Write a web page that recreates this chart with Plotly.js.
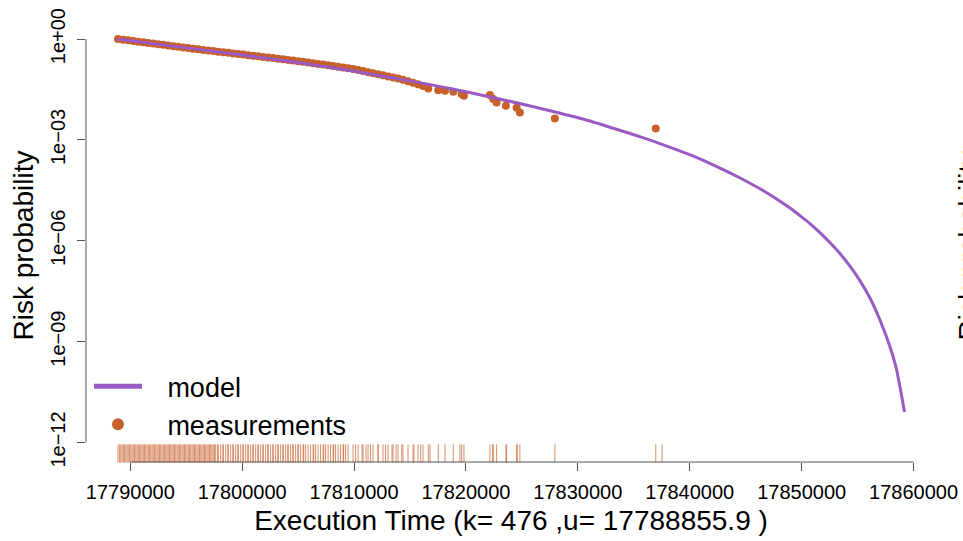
<!DOCTYPE html>
<html><head><meta charset="utf-8">
<script src="https://cdn.plot.ly/plotly-3.0.1.min.js"></script>
<style>html,body{margin:0;padding:0;background:#fff}#chart{width:963px;height:541px}</style>
</head><body><div id="chart"></div>
<script>
// Model curve (execution time, exceedance probability)
const modelX = [17788856, 17795357, 17804286, 17809643, 17812589, 17818571, 17827054, 17828839, 17831071,
  17833304, 17835536, 17837768, 17840000, 17842232, 17844464, 17846696, 17848036, 17848929, 17849821,
  17850714, 17851607, 17852500, 17853393, 17854286, 17855179, 17856071, 17856964, 17857857, 17858455,
  17858750, 17859196];
const modelY = [1, 0.529, 0.217, 0.117, 0.0782, 0.0341, 0.00809, 0.00574, 0.00367,
  0.00215, 0.001254, 6.93e-4, 3.63e-4, 1.73e-4, 7.50e-5, 2.93e-5, 1.53e-5, 9.60e-6, 5.70e-6,
  3.30e-6, 1.79e-6, 9.08e-7, 4.31e-7, 1.82e-7, 6.76e-8, 2.10e-8, 4.71e-9, 7.66e-10, 1.64e-10,
  5.28e-11, 8.04e-12];

// Measurements
const measX = [17788900, 17789375, 17789821, 17790268, 17790714, 17791161, 17791607, 17792054, 17792500, 17792946,
  17793393, 17793839, 17794286, 17794732, 17795179, 17795625, 17796071, 17796518, 17796964, 17797411,
  17797857, 17798304, 17798750, 17799196, 17799643, 17800089, 17800536, 17800982, 17801429, 17801875,
  17802321, 17802768, 17803214, 17803661, 17804107, 17804554, 17805000, 17805446, 17805893, 17806339,
  17806786, 17807232, 17807679, 17808125, 17808571, 17809018, 17809464, 17809911, 17810357, 17810804,
  17811250, 17811696, 17812143, 17812589, 17813036, 17813482, 17813929, 17814375, 17814821, 17815268,
  17815714, 17816161, 17816634, 17817527, 17818125, 17818866, 17819616, 17819821, 17822143, 17822438,
  17822741, 17823571, 17824527, 17824821, 17827946, 17836964];
const measY = [1.000, 0.957, 0.916, 0.877, 0.840, 0.805, 0.771, 0.738, 0.707, 0.678,
  0.647, 0.617, 0.589, 0.563, 0.540, 0.517, 0.495, 0.475, 0.457, 0.439,
  0.423, 0.406, 0.390, 0.375, 0.361, 0.347, 0.333, 0.319, 0.306, 0.294,
  0.283, 0.272, 0.262, 0.251, 0.240, 0.230, 0.221, 0.211, 0.201, 0.191,
  0.182, 0.174, 0.166, 0.158, 0.151, 0.143, 0.135, 0.128, 0.121, 0.112,
  0.104, 0.0968, 0.0897, 0.0833, 0.0773, 0.0718, 0.0667, 0.0620, 0.0553, 0.0500,
  0.0456, 0.0401, 0.0341, 0.0303, 0.0291, 0.0272, 0.0231, 0.0207, 0.0216, 0.0164,
  0.0131, 0.0104, 0.00908, 0.00658, 0.00437, 0.0022];

// Further rug positions seen in the picture (observations hidden under the dense band)
const rugOnlyX = [17789045, 17789152, 17789268, 17789482, 17789598, 17789714, 17789938, 17790045, 17790161,
  17790384, 17790491, 17790607, 17790830, 17790938, 17791054, 17791277, 17791384, 17791500, 17791723,
  17791830, 17791946, 17792170, 17792277, 17792393, 17792616, 17792723, 17792839, 17793063, 17793170,
  17793286, 17793509, 17793616, 17793732, 17793955, 17794063, 17794179, 17794402, 17794509, 17794625,
  17794848, 17794955, 17795071, 17795295, 17795402, 17795518, 17795741, 17795848, 17795964, 17796188,
  17796295, 17796411, 17796634, 17796741, 17796857, 17797080, 17797188, 17797304, 17797527, 17797634,
  17797813, 17798080, 17798286, 17798527, 17798732, 17798973, 17799179, 17799420, 17799625, 17799866,
  17800071, 17800313, 17800518, 17800759, 17800964, 17801205, 17801411, 17801652, 17801857, 17802098,
  17802304, 17802545, 17802750, 17802991, 17803196, 17803438, 17803643, 17803884, 17804089, 17804330,
  17804536, 17804777, 17804982, 17805223, 17805500, 17805670, 17806116, 17806400, 17806563, 17807009,
  17807290, 17807455, 17807902, 17808180, 17808348, 17808795, 17809070, 17809241, 17810134, 17810714,
  17811071, 17811473, 17812143, 17812813, 17813393, 17813750, 17814259, 17815357, 17815955, 17816786,
  17819464, 17822384, 17823634, 17824580, 17837527];

const xTickVals = [17790000, 17800000, 17810000, 17820000, 17830000, 17840000, 17850000, 17860000];
const xTickText = ['17790000', '17800000', '17810000', '17820000', '17830000', '17840000', '17850000', '17860000'];
const yTickVals = [1e-12, 1e-9, 1e-6, 1e-3, 1];
const yTickText = ['1e\u221212', '1e\u221209', '1e\u221206', '1e\u221203', '1e+00'];

const purple = '#9A5AC4';
const orange = '#C8602A';
const font = 'Liberation Sans, Arial, Helvetica, sans-serif';
const rugLevel = 4.71e-13;
const pad = '\u00a0\u00a0\u2009';

const rugX = measX.concat(rugOnlyX);

const traces = [
  {x: measX, y: measY, type: 'scatter', mode: 'markers', name: pad + 'measurements', legendrank: 2,
   marker: {color: orange, size: 8}},
  {x: modelX, y: modelY, type: 'scatter', mode: 'lines', name: pad + 'model', legendrank: 1,
   line: {color: purple, width: 3, shape: 'spline', smoothing: 1}},
  {x: rugX, y: rugX.map(() => rugLevel), type: 'scatter', mode: 'markers', showlegend: false,
   hoverinfo: 'x', marker: {symbol: 'line-ns', size: 13, color: orange,
   line: {color: 'rgba(200,96,42,0.7)', width: 1}}, cliponaxis: false}
];

const layout = {
  width: 963, height: 541,
  margin: {l: 86, r: 26.5, t: 29.2, b: 79, pad: 0},
  paper_bgcolor: '#fff', plot_bgcolor: '#fff',
  font: {family: font, color: '#000'},
  showlegend: true,
  legend: {x: 0.0035, xanchor: 'left', y: 0.13, yanchor: 'middle', bgcolor: 'rgba(0,0,0,0)',
    font: {size: 27, family: font}, itemwidth: 48, itemsizing: 'constant', tracegroupgap: 0},
  xaxis: {type: 'linear', range: [17786043, 17862009], showgrid: false, zeroline: false, showline: false,
    tickmode: 'array', tickvals: xTickVals, ticktext: xTickText, ticks: 'outside', ticklen: 8,
    tickcolor: '#555', tickwidth: 1, tickfont: {size: 20, family: font}, ticklabelstandoff: 4,
    title: {text: 'Execution Time (k= 476 ,u= 17788855.9 )', font: {size: 28, family: font}, standoff: 8}},
  yaxis: {type: 'log', range: [-12.58, 0.3], showgrid: false, zeroline: false, showline: false,
    tickmode: 'array', tickvals: yTickVals, ticktext: yTickText, ticks: 'outside', ticklen: 8,
    tickcolor: '#555', tickwidth: 1, tickangle: -90, tickfont: {size: 20, family: font}, ticklabelstandoff: 4,
    title: {text: 'Risk probability', font: {size: 28, family: font}, standoff: 5}},
  shapes: [
    {type: 'line', xref: 'paper', x0: 0, x1: 0, yref: 'y', y0: yTickVals[0], y1: yTickVals[yTickVals.length - 1],
     line: {color: '#555', width: 1}},
    {type: 'line', xref: 'x', x0: xTickVals[0], x1: xTickVals[xTickVals.length - 1], yref: 'paper', y0: 0, y1: 0,
     line: {color: '#555', width: 1}}
  ],
  annotations: [
    {text: 'Risk probability', xref: 'paper', yref: 'paper', x: 1, xshift: 32, y: 0.5, textangle: -90,
     showarrow: false, font: {size: 28, family: font, color: '#000'}, xanchor: 'center', yanchor: 'middle'}
  ]
};

Plotly.newPlot('chart', traces, layout, {displayModeBar: false, staticPlot: true});
</script>
</body></html>
